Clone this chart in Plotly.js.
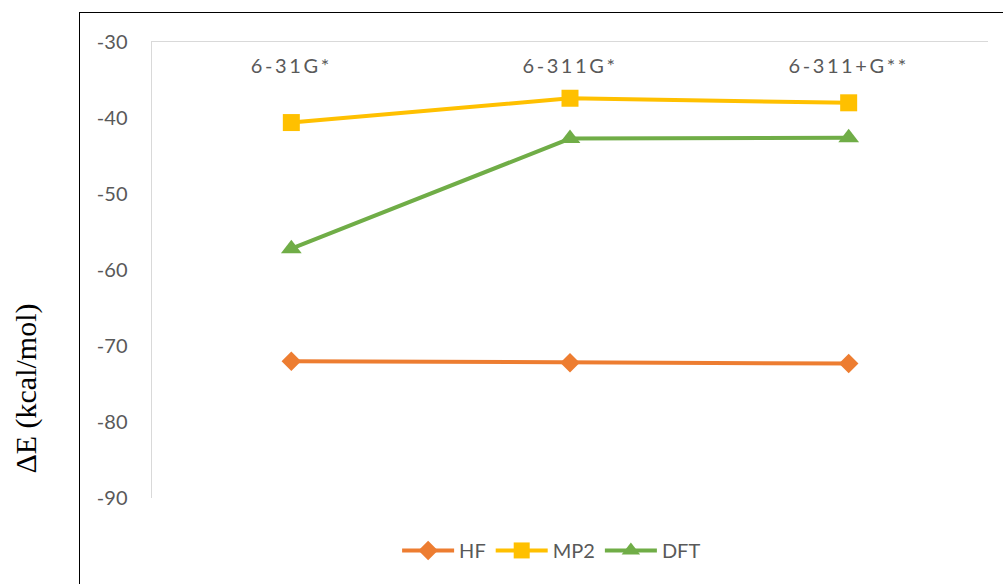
<!DOCTYPE html>
<html>
<head>
<meta charset="utf-8">
<script src="https://cdn.plot.ly/plotly-3.0.1.min.js"></script>
<style>
  html, body { margin: 0; padding: 0; background: #fff; overflow: hidden; }
  #wrap { position: relative; width: 1003px; height: 584px; }
  #chart { width: 1003px; height: 584px; }
  /* outer chart frame, running off the right and bottom edges */
  #frame { position: absolute; left: 79px; top: 12px; width: 1000px; height: 700px;
           border: 1.5px solid #000; pointer-events: none; box-sizing: border-box; }
  /* spaced-out basis-set labels */
  .xtick text { letter-spacing: 2.6px; }
</style>
</head>
<body>
<div id="wrap">
  <div id="chart"></div>
  <div id="frame"></div>
</div>
<script>
// Basis sets (category axis)
const basisSets = ["6-31G*", "6-311G*", "6-311+G**"];

// Interaction energies, kcal/mol
const hf  = [-72.0, -72.2, -72.3];
const mp2 = [-40.6, -37.4, -38.0];
const dft = [-57.2, -42.7, -42.6];

// Value-axis ticks and their labels (plain hyphen as minus sign)
const yTicks = [-30, -40, -50, -60, -70, -80, -90];
const yTickText = yTicks.map(v => String(v));

const traces = [
  { name: "HF",  x: basisSets, y: hf,  type: "scatter", mode: "lines+markers",
    line: { color: "#ED7D31", width: 4 },
    marker: { symbol: "diamond", size: 15, color: "#ED7D31" } },
  { name: "MP2", x: basisSets, y: mp2, type: "scatter", mode: "lines+markers",
    line: { color: "#FFC000", width: 4 },
    marker: { symbol: "square", size: 17, color: "#FFC000" } },
  { name: "DFT", x: basisSets, y: dft, type: "scatter", mode: "lines+markers",
    line: { color: "#70AD47", width: 4 },
    marker: { symbol: "triangle-up", size: 18, color: "#70AD47" } }
];

const labelFont = { family: "Lato, 'Open Sans', sans-serif", size: 20, color: "#595959" };

const layout = {
  width: 1003, height: 584,
  margin: { l: 152, r: 15, t: 42, b: 86, pad: 0 },
  paper_bgcolor: "#ffffff",
  plot_bgcolor: "#ffffff",
  font: labelFont,
  showlegend: true,
  legend: {
    orientation: "h", x: 0.478, xanchor: "center", y: -0.115, yanchor: "middle",
    font: labelFont, traceorder: "normal", itemwidth: 52
  },
  xaxis: {
    type: "category", side: "top", range: [-0.5, 2.5],
    showline: true, linecolor: "#D9D9D9", linewidth: 1.5,
    showgrid: false, zeroline: false, ticks: "",
    ticklabelstandoff: -40,
    tickfont: labelFont,
    fixedrange: true
  },
  yaxis: {
    range: [-90, -30], tickvals: yTicks, ticktext: yTickText,
    showline: true, linecolor: "#D9D9D9", linewidth: 1.5,
    showgrid: false, zeroline: false, ticks: "",
    ticklabelstandoff: 19,
    tickfont: labelFont,
    fixedrange: true
  },
  annotations: [{
    text: "ΔE (kcal/mol)", xref: "paper", yref: "paper",
    x: -0.1507, y: 0.24, xanchor: "center", yanchor: "middle",
    textangle: -90, showarrow: false,
    font: { family: "'Liberation Serif', 'Times New Roman', serif", size: 30, color: "#000000" }
  }]
};

Plotly.newPlot("chart", traces, layout, { displayModeBar: false, staticPlot: true });
</script>
</body>
</html>
